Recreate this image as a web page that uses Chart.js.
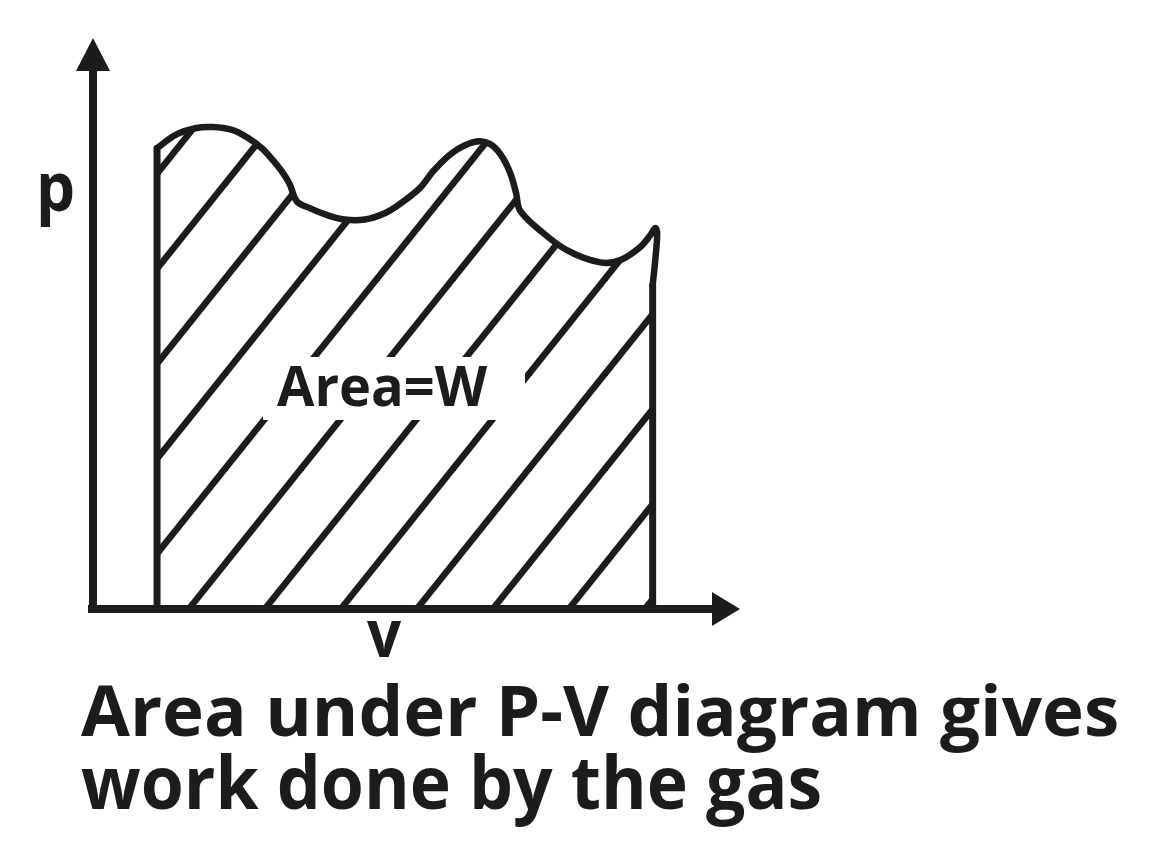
<!DOCTYPE html>
<html>
<head>
<meta charset="utf-8">
<script src="https://cdn.jsdelivr.net/npm/chart.js@4"></script>
<style>
  html, body { margin: 0; padding: 0; background: #ffffff; }
  #wrap { width: 1153px; height: 854px; }
</style>
</head>
<body>
<div id="wrap"><canvas id="c" width="1153" height="854"></canvas></div>
<script>
// ---- data (arbitrary units: V along x, p along y) ----
const curveV = [0.99, 1.27, 1.58, 1.85, 2.15, 2.38, 2.61, 2.78, 2.94, 3.04, 3.15, 3.35, 3.59, 3.89, 4.20, 4.51, 4.74, 5.05, 5.26, 5.52, 5.75, 5.98, 6.18, 6.34, 6.46, 6.54, 6.60, 6.91, 7.33, 7.84, 8.15, 8.45, 8.61, 8.69, 8.72, 8.69, 8.65];
const curveP = [8.07, 8.30, 8.42, 8.44, 8.39, 8.26, 8.07, 7.86, 7.63, 7.44, 7.14, 7.02, 6.91, 6.82, 6.82, 6.93, 7.09, 7.37, 7.67, 7.96, 8.12, 8.19, 8.11, 7.89, 7.60, 7.28, 6.98, 6.63, 6.28, 6.07, 6.11, 6.33, 6.54, 6.67, 6.58, 6.11, 5.67];
const startV = 0.99;      // initial volume (left edge)
const endV = 8.65;        // final volume (right edge)
const axisMax = [10, 10]; // V max, p max
const axisLabels = ['v', 'p'];
const areaLabel = 'Area=W';
const captionLines = ['Area under P-V diagram gives', 'work done by the gas'];

const INK = '#1d1b1c';

const curvePts = curveV.map((v, i) => ({ x: v, y: curveP[i] }));
const areaPts = [{ x: startV, y: 0 }, ...curvePts, { x: endV, y: 0 }];

// hatch pattern (diagonal lines)
function makeHatch() {
  const w = 76, h = 95, off = 68;
  const t = document.createElement('canvas');
  t.width = w; t.height = h;
  const g = t.getContext('2d');
  g.strokeStyle = INK;
  g.lineWidth = 6.5;
  for (let k = -2; k <= 3; k++) {
    g.beginPath();
    g.moveTo(off + w * k + w, -h);
    g.lineTo(off + w * k - 2 * w, 2 * h);
    g.stroke();
  }
  return document.getElementById('c').getContext('2d').createPattern(t, 'repeat');
}

function fitText(ctx, text, font, l, t, r, b) {
  ctx.font = font;
  const m = ctx.measureText(text);
  const w = m.actualBoundingBoxLeft + m.actualBoundingBoxRight;
  const h = m.actualBoundingBoxAscent + m.actualBoundingBoxDescent;
  ctx.save();
  ctx.translate(l, t);
  ctx.scale((r - l) / w, (b - t) / h);
  ctx.textAlign = 'left';
  ctx.textBaseline = 'alphabetic';
  ctx.fillStyle = INK;
  ctx.fillText(text, m.actualBoundingBoxLeft, m.actualBoundingBoxAscent);
  ctx.restore();
}

const FONT = 'bold 60px "Open Sans"';

const decor = {
  id: 'decor',
  afterDatasetsDraw(chart) {
    const { ctx, chartArea, scales } = chart;
    const x0 = scales.x.getPixelForValue(0);
    const y0 = scales.y.getPixelForValue(0);
    ctx.save();
    // label box
    ctx.fillStyle = '#ffffff';
    ctx.fillRect(263, 357, 262, 63);
    fitText(ctx, areaLabel, FONT, 277, 365, 488, 407);

    // axes
    ctx.strokeStyle = INK;
    ctx.fillStyle = INK;
    ctx.lineWidth = 8;
    ctx.lineCap = 'butt';
    ctx.beginPath();
    ctx.moveTo(x0, y0 + 4);
    ctx.lineTo(x0, chartArea.top + 30);
    ctx.stroke();
    ctx.beginPath();
    ctx.moveTo(x0, chartArea.top);
    ctx.lineTo(x0 - 17, chartArea.top + 33);
    ctx.lineTo(x0 + 17, chartArea.top + 33);
    ctx.closePath();
    ctx.fill();

    ctx.beginPath();
    ctx.moveTo(x0 - 5, y0);
    ctx.lineTo(chartArea.right - 25, y0);
    ctx.stroke();
    ctx.beginPath();
    ctx.moveTo(chartArea.right, y0);
    ctx.lineTo(chartArea.right - 28, y0 - 17);
    ctx.lineTo(chartArea.right - 28, y0 + 17);
    ctx.closePath();
    ctx.fill();

    // axis labels
    fitText(ctx, axisLabels[1], FONT, 40, 173, 73, 228);
    fitText(ctx, axisLabels[0], FONT, 367, 621, 402, 657);

    // caption
    fitText(ctx, captionLines[0], FONT, 81, 682, 1117, 753);
    fitText(ctx, captionLines[1], FONT, 81, 752, 820, 827);
    ctx.restore();
  }
};

new Chart(document.getElementById('c'), {
  type: 'scatter',
  data: {
    datasets: [
      {
        label: 'area',
        data: areaPts,
        showLine: true,
        fill: 'shape',
        backgroundColor: makeHatch(),
        borderWidth: 0,
        pointRadius: 0,
        tension: 0
      },
      {
        label: 'curve',
        data: curvePts,
        showLine: true,
        fill: false,
        borderColor: INK,
        borderWidth: 6.5,
        borderCapStyle: 'round',
        borderJoinStyle: 'round',
        pointRadius: 0,
        tension: 0.35
      },
      {
        label: 'start',
        data: [{ x: startV, y: 0 }, { x: startV, y: curveP[0] }],
        showLine: true,
        fill: false,
        borderColor: INK,
        borderWidth: 7,
        borderCapStyle: 'round',
        pointRadius: 0,
        tension: 0
      },
      {
        label: 'end',
        data: [{ x: endV, y: 0 }, { x: endV, y: curveP[curveP.length - 1] }],
        showLine: true,
        fill: false,
        borderColor: INK,
        borderWidth: 7,
        borderCapStyle: 'round',
        pointRadius: 0,
        tension: 0
      }
    ]
  },
  options: {
    responsive: false,
    devicePixelRatio: 1,
    animation: false,
    layout: { padding: { left: 93, top: 38, right: 1153 - 740, bottom: 854 - 609 } },
    scales: {
      x: { type: 'linear', min: 0, max: axisMax[0], display: false },
      y: { type: 'linear', min: 0, max: axisMax[1], display: false }
    },
    plugins: {
      legend: { display: false },
      tooltip: { enabled: false },
      title: { display: false }
    }
  },
  plugins: [decor]
});
</script>
</body>
</html>
